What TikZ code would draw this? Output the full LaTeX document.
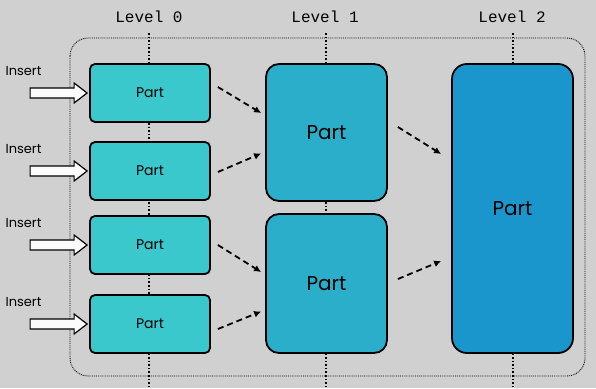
\documentclass[tikz,border=0pt]{standalone}
\usepackage{fontspec}
\setmainfont{Poppins}
\setmonofont{Liberation Mono}
\usetikzlibrary{calc}
\definecolor{bg}{HTML}{D0D0D0}
\definecolor{lvzero}{HTML}{3AC8CC}
\definecolor{lvone}{HTML}{2AAECA}
\definecolor{lvtwo}{HTML}{1A96CC}
\tikzset{
  partbox/.style={draw=black, line width=1.8pt, inner sep=0pt, font=\fontsize{14}{16}\selectfont},
  small/.style={partbox, fill=lvzero, rounded corners=5pt, minimum width=120pt, minimum height=58pt},
  mid/.style={partbox, fill=lvone, rounded corners=13pt, minimum width=121pt, font=\fontsize{20}{22}\selectfont},
  big/.style={partbox, fill=lvtwo, rounded corners=15pt, minimum width=121pt, minimum height=289pt, font=\fontsize{20}{22}\selectfont},
  levellbl/.style={font=\ttfamily\fontsize{16}{18}\selectfont, inner sep=0pt},
  insertlbl/.style={font=\fontsize{13}{15}\selectfont, inner sep=0pt},
  levelline/.style={black, line width=1.6pt, dotted},
  container/.style={black, line width=0.9pt, densely dotted, rounded corners=18pt},
  flow/.style={black, line width=1.8pt, dash pattern=on 6pt off 4pt, -{Latex[length=7pt,width=7pt]}},
  insertarrow/.style={draw=black, fill=white!92!bg, line width=1.2pt, line join=miter}
}
\usetikzlibrary{arrows.meta}
\begin{document}
\begin{tikzpicture}[x=1pt,y=-1pt]
\fill[bg] (0,0) rectangle (596,388);
\useasboundingbox (0,0) rectangle (596,388);
% level labels
\node[levellbl] (l0) at (149,17) {Level 0};
\node[levellbl] (l1) at (325,17) {Level 1};
\node[levellbl] (l2) at (512,17) {Level 2};
% container
\draw[container] (70,38) rectangle (585,376);
% level lines
\coordinate (l0b) at (149,388);
\coordinate (l1b) at (326,388);
\coordinate (l2b) at (513,388);
\draw[levelline] (149,33) -- (l0b);
\draw[levelline] (326,33) -- (l1b);
\draw[levelline] (513,33) -- (l2b);
% level 0 parts
\node[small] (a1) at (150,93) {Part};
\node[small] (a2) at (150,171) {Part};
\node[small] (a3) at (150,245) {Part};
\node[small] (a4) at (150,324) {Part};
% level 1 parts
\node[mid, minimum height=137pt] (b1) at (326.5,132.5) {Part};
\node[mid, minimum height=139pt] (b2) at (326.5,283.5) {Part};
% level 2 part
\node[big] (c) at (512.5,208.5) {Part};
% insert arrows
\foreach \n in {a1,a2,a3,a4}{
  \draw[insertarrow] ($(\n.west)+(-59,-5)$) -- ++(44,0) -- ++(0,-5) -- ++(13,10) -- ++(-13,10) -- ++(0,-5) -- ++(-44,0) -- cycle;
  \node[insertlbl] at ($(\n.west)+(-65.5,-21.5)$) {Insert};
}
% flows
\draw[flow] ($(a1.east)+(7,-6)$) -- ($(b1.west)+(-4,-19.5)$);
\draw[flow] ($(a2.east)+(7,1)$) -- ($(b1.west)+(-4,21)$);
\draw[flow] ($(a3.east)+(7,0)$) -- ($(b2.west)+(-4,-11.5)$);
\draw[flow] ($(a4.east)+(7,5)$) -- ($(b2.west)+(-4,28)$);
\draw[flow] ($(b1.east)+(10,-5.5)$) -- ($(c.west)+(-10,-54.5)$);
\draw[flow] ($(b2.east)+(10,-4.5)$) -- ($(c.west)+(-10,52.5)$);
\end{tikzpicture}
\end{document}
